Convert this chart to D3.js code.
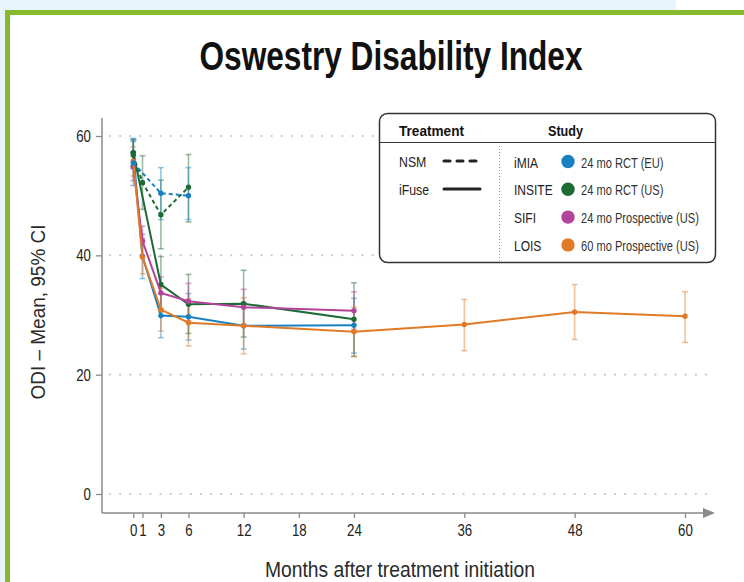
<!DOCTYPE html>
<html>
<head>
<meta charset="utf-8">
<script src="https://cdn.jsdelivr.net/npm/d3@7"></script>
<style>
  body { margin: 0; background: #fff; }
  text { font-family: "Liberation Sans", Arial, sans-serif; }
</style>
</head>
<body>
<div id="chart"></div>
<script>
// ---- data (ODI mean and 95% CI) ----
var monthTicks = [0, 1, 3, 6, 12, 18, 24, 36, 48, 60];
var odiTicks = [0, 20, 40, 60];

var imiaNsmMonths = [0, 3, 6];
var imiaNsmMean = [55.5, 50.4, 50.0];
var imiaNsmLo = [51.7, 46.0, 46.0];
var imiaNsmHi = [59.4, 54.7, 54.7];

var insiteNsmMonths = [0, 1, 3, 6];
var insiteNsmMean = [56.8, 52.2, 46.8, 51.4];
var insiteNsmLo = [54.5, 47.7, 41.1, 45.6];
var insiteNsmHi = [59.1, 56.7, 52.6, 56.9];

var imiaFuseMonths = [0, 1, 3, 6, 12, 24];
var imiaFuseMean = [57.2, 39.8, 29.9, 29.7, 28.2, 28.3];
var imiaFuseLo = [54.8, 36.1, 26.2, 25.8, 24.3, 23.6];
var imiaFuseHi = [59.6, 43.5, 33.6, 33.6, 32.1, 32.8];

var insiteFuseMonths = [0, 3, 6, 12, 24];
var insiteFuseMean = [57.2, 35.1, 31.8, 31.9, 29.3];
var insiteFuseLo = [55.0, 30.5, 26.9, 26.3, 23.1];
var insiteFuseHi = [59.4, 39.8, 36.8, 37.5, 35.4];

var sifiMonths = [0, 1, 3, 6, 12, 24];
var sifiMean = [54.9, 42.4, 33.7, 32.3, 31.3, 30.7];
var sifiLo = [52.5, 40.0, 31.0, 29.0, 28.4, 27.6];
var sifiHi = [57.3, 44.9, 36.4, 35.3, 34.3, 33.9];

var loisMonths = [0, 1, 3, 6, 12, 24, 36, 48, 60];
var loisMean = [55.8, 39.7, 30.9, 28.7, 28.2, 27.2, 28.4, 30.5, 29.8];
var loisLo = [53.3, 36.9, 27.3, 24.8, 23.5, 23.0, 24.0, 25.9, 25.4];
var loisHi = [58.2, 42.9, 34.5, 32.7, 32.9, 31.3, 32.6, 35.1, 33.9];

var studyNames = ["iMIA", "INSITE", "SIFI", "LOIS"];
var studyLabels = ["24 mo RCT (EU)", "24 mo RCT (US)", "24 mo Prospective (US)", "60 mo Prospective (US)"];
var studyColors = ["#1a80c2", "#1e6a35", "#b3449b", "#e07a26"];
var treatmentNames = ["NSM", "iFuse"];

var series = [
  {study: 0, dashed: false, m: imiaFuseMonths, v: imiaFuseMean, lo: imiaFuseLo, hi: imiaFuseHi},
  {study: 1, dashed: false, m: insiteFuseMonths, v: insiteFuseMean, lo: insiteFuseLo, hi: insiteFuseHi},
  {study: 2, dashed: false, m: sifiMonths, v: sifiMean, lo: sifiLo, hi: sifiHi},
  {study: 3, dashed: false, m: loisMonths, v: loisMean, lo: loisLo, hi: loisHi},
  {study: 1, dashed: true, m: insiteNsmMonths, v: insiteNsmMean, lo: insiteNsmLo, hi: insiteNsmHi},
  {study: 0, dashed: true, m: imiaNsmMonths, v: imiaNsmMean, lo: imiaNsmLo, hi: imiaNsmHi}
];
series.forEach(function(s) {
  s.pts = s.m.map(function(d, i) { return {m: d, v: s.v[i], lo: s.lo[i], hi: s.hi[i]}; });
});

// no condensed font installed: squeeze text horizontally
function squeeze(sel, f) {
  sel.each(function() {
    var w = this.getComputedTextLength();
    d3.select(this).attr('textLength', w * f).attr('lengthAdjust', 'spacingAndGlyphs');
  });
}
function fitTo(sel, w) {
  sel.attr('textLength', w).attr('lengthAdjust', 'spacingAndGlyphs');
}

var width = 744, height = 582;
var svg = d3.select('#chart').append('svg').attr('width', width).attr('height', height);

// frame
svg.append('rect').attr('x', 0).attr('y', 0).attr('width', 676).attr('height', 12).attr('fill', '#e7f4fc');
svg.append('rect').attr('x', 0).attr('y', 0).attr('width', 6).attr('height', height).attr('fill', '#e7f4fc');
svg.append('rect').attr('x', 10).attr('y', 15).attr('width', 14).attr('height', 14).attr('fill', '#e7f4fc');
svg.append('rect').attr('x', 10).attr('y', 15).attr('width', 900).attr('height', 700).attr('rx', 7).attr('fill', '#fff');
svg.append('rect').attr('x', 5).attr('y', 10).attr('width', width).attr('height', 5).attr('fill', '#86b92c');
svg.append('rect').attr('x', 5).attr('y', 10).attr('width', 5).attr('height', height).attr('fill', '#86b92c');

var title = svg.append('text').attr('x', 391).attr('y', 70).attr('text-anchor', 'middle')
  .attr('font-size', 41).attr('font-weight', 'bold').attr('fill', '#111')
  .text('Oswestry Disability Index');
fitTo(title, 383);

var x = d3.scaleLinear().domain([0, 60]).range([133.3, 685]);
var y = d3.scaleLinear().domain([0, 60]).range([494, 136]);

// gridlines
svg.append('g').selectAll('line').data(odiTicks).enter().append('line')
  .attr('x1', 110).attr('x2', 710)
  .attr('y1', function(d) { return y(d); }).attr('y2', function(d) { return y(d); })
  .attr('stroke', '#c8c8c8').attr('stroke-width', 2.2)
  .attr('stroke-linecap', 'round').attr('stroke-dasharray', '0.1,10');

// axes
var axisColor = '#8a8a8a';
var yAxis = svg.append('g').attr('transform', 'translate(102,0)')
  .call(d3.axisLeft(y).tickValues(odiTicks).tickSize(6).tickPadding(5).tickFormat(d3.format('d')));
yAxis.attr('font-family', null);
yAxis.select('.domain').remove();
yAxis.selectAll('line').attr('stroke', axisColor).attr('stroke-width', 1.3);
yAxis.selectAll('text').attr('font-size', 17).attr('fill', '#222');
squeeze(yAxis.selectAll('text'), 0.78);

var xAxis = svg.append('g').attr('transform', 'translate(0,513)')
  .call(d3.axisBottom(x).tickValues(monthTicks).tickSize(5).tickPadding(6).tickFormat(d3.format('d')));
xAxis.attr('font-family', null);
xAxis.select('.domain').remove();
xAxis.selectAll('line').attr('stroke', axisColor).attr('stroke-width', 1.3);
xAxis.selectAll('text').attr('font-size', 17).attr('fill', '#222');
squeeze(xAxis.selectAll('text'), 0.78);

svg.append('line').attr('x1', 102).attr('x2', 102).attr('y1', 118).attr('y2', 513)
  .attr('stroke', axisColor).attr('stroke-width', 1.5);
svg.append('line').attr('x1', 102).attr('x2', 708).attr('y1', 513).attr('y2', 513)
  .attr('stroke', axisColor).attr('stroke-width', 1.5);
svg.append('path').attr('d', 'M703,508 L715,513 L703,518 Z').attr('fill', axisColor);

var yTitle = svg.append('text').attr('transform', 'translate(45,312) rotate(-90)').attr('text-anchor', 'middle')
  .attr('font-size', 20).attr('fill', '#2a2a2a').text('ODI \u2013 Mean, 95% CI');
fitTo(yTitle, 175);
var xTitle = svg.append('text').attr('x', 400).attr('y', 577).attr('text-anchor', 'middle')
  .attr('font-size', 22).attr('fill', '#2a2a2a').text('Months after treatment initiation');
fitTo(xTitle, 270);

// error bars
var bars = svg.append('g');
series.forEach(function(s) {
  var c = studyColors[s.study];
  var g = bars.append('g').attr('stroke', c).attr('stroke-opacity', 0.45).attr('stroke-width', 1.6);
  g.selectAll('.v').data(s.pts).enter().append('line')
    .attr('x1', function(d) { return x(d.m); }).attr('x2', function(d) { return x(d.m); })
    .attr('y1', function(d) { return y(d.lo); }).attr('y2', function(d) { return y(d.hi); });
  ['lo', 'hi'].forEach(function(k) {
    g.selectAll('.c' + k).data(s.pts).enter().append('line')
      .attr('x1', function(d) { return x(d.m) - 3; }).attr('x2', function(d) { return x(d.m) + 3; })
      .attr('y1', function(d) { return y(d[k]); }).attr('y2', function(d) { return y(d[k]); });
  });
});

// lines and markers
var line = d3.line().x(function(d) { return x(d.m); }).y(function(d) { return y(d.v); });
series.forEach(function(s) {
  var c = studyColors[s.study];
  svg.append('path').datum(s.pts).attr('d', line).attr('fill', 'none')
    .attr('stroke', c).attr('stroke-width', 2)
    .attr('stroke-dasharray', s.dashed ? '4,3' : null);
  svg.append('g').selectAll('circle').data(s.pts).enter().append('circle')
    .attr('cx', function(d) { return x(d.m); }).attr('cy', function(d) { return y(d.v); })
    .attr('r', 2.7).attr('fill', c);
});

// legend
var lg = svg.append('g');
lg.append('rect').attr('x', 379.5).attr('y', 113.5).attr('width', 336).attr('height', 149).attr('rx', 8)
  .attr('fill', '#fff').attr('stroke', '#333').attr('stroke-width', 1.5);
lg.append('line').attr('x1', 380).attr('x2', 715).attr('y1', 142.5).attr('y2', 142.5)
  .attr('stroke', '#333').attr('stroke-width', 1);
lg.append('line').attr('x1', 499.5).attr('x2', 499.5).attr('y1', 146).attr('y2', 262)
  .attr('stroke', '#999').attr('stroke-width', 1).attr('stroke-dasharray', '1,2');
fitTo(lg.append('text').attr('x', 399).attr('y', 136).attr('font-size', 15).attr('font-weight', 'bold')
  .attr('fill', '#111').text('Treatment'), 65);
fitTo(lg.append('text').attr('x', 565.5).attr('y', 136).attr('text-anchor', 'middle').attr('font-size', 15)
  .attr('font-weight', 'bold').attr('fill', '#111').text('Study'), 35);

var tr = lg.selectAll('.tr').data(treatmentNames).enter().append('g')
  .attr('transform', function(d, i) { return 'translate(0,' + (161 + i * 28) + ')'; });
squeeze(tr.append('text').attr('x', 399).attr('y', 6).attr('font-size', 15).attr('fill', '#222')
  .text(function(d) { return d; }), 0.82);
tr.append('line').attr('x1', 444).attr('x2', 480).attr('y1', 0).attr('y2', 0)
  .attr('stroke', '#222').attr('stroke-width', 3).attr('stroke-linecap', 'round')
  .attr('stroke-dasharray', function(d, i) { return i === 0 ? '6,7' : null; });

var st = lg.selectAll('.st').data(studyNames).enter().append('g')
  .attr('transform', function(d, i) { return 'translate(0,' + (161.5 + i * 27.8) + ')'; });
squeeze(st.append('text').attr('x', 514).attr('y', 6).attr('font-size', 15).attr('fill', '#222')
  .text(function(d) { return d; }), 0.8);
st.append('circle').attr('cx', 568).attr('cy', 0).attr('r', 6.7).attr('fill', function(d, i) { return studyColors[i]; });
squeeze(st.append('text').attr('x', 581).attr('y', 6).attr('font-size', 15).attr('fill', '#333')
  .text(function(d, i) { return studyLabels[i]; }), 0.74);
</script>
</body>
</html>
